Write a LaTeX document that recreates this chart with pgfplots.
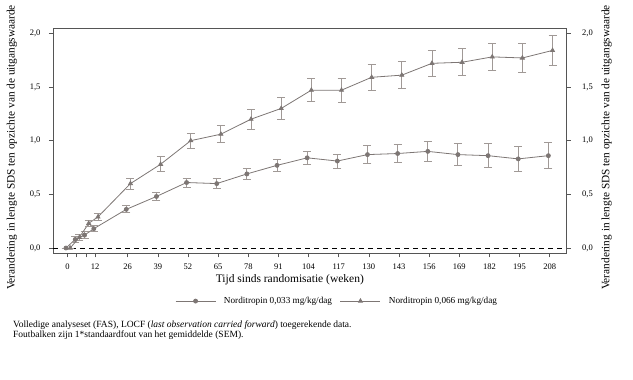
\documentclass[border=0pt]{standalone}
\usepackage{pgfplots}
\pgfplotsset{compat=1.18}
\usepackage{fontspec}
\setmainfont{Liberation Serif}
\definecolor{ln}{RGB}{125,118,116}
\definecolor{eb}{RGB}{160,153,150}
\definecolor{fr}{RGB}{85,85,85}
\begin{document}
\begin{tikzpicture}
\path (0pt,0pt) rectangle (633pt,380pt);
\begin{axis}[
  at={(53pt,126.5pt)}, anchor=south west,
  width=513.7pt, height=225.5pt, scale only axis,
  xmin=-6.2, xmax=215.3, ymin=-0.051, ymax=2.049,
  xtick={0,4,8,12,26,39,52,65,78,91,104,117,130,143,156,169,182,195,208},
  xticklabels={0,,,12,26,39,52,65,78,91,104,117,130,143,156,169,182,195,208},
  ytick={0,0.5,1,1.5,2},
  yticklabel style={xshift=-5pt,/pgf/number format/.cd,use comma,fixed,fixed zerofill,precision=1},
  /pgf/number format/assume math mode=true,
  tick align=outside, major tick length=4pt,
  xtick pos=bottom, ytick pos=left,
  tick style={fr, line width=0.6pt},
  axis line style={fr, line width=0.9pt},
  ticklabel style={font=\fontsize{8.5}{9}\selectfont},
  xticklabel style={yshift=-3pt},
  xlabel={Tijd sinds randomisatie (weken)},
  xlabel style={font=\fontsize{11.5}{12}\selectfont, at={(axis description cs:0.461,-0.1175)}, anchor=center},
  ylabel={Verandering in lengte SDS ten opzichte van de uitgangswaarde},
  ylabel style={font=\fontsize{11.3}{12}\selectfont, at={(axis description cs:-0.0798,0.47)}, anchor=center},
  legend columns=2,
  legend style={at={(0.553,-0.211)}, anchor=center, draw=none, fill=none,
    font=\fontsize{9.2}{10}\selectfont, column sep=6pt},
  legend cell align=left,
  legend image code/.code={\draw[mark repeat=2,mark phase=2,#1] plot coordinates {(0pt,0pt) (20pt,0pt) (40pt,0pt)};},
]
\addplot[forget plot, black, line width=0.7pt, dash pattern=on 5pt off 4pt] coordinates {(-6.2,0) (215.3,0)};
\addplot[ln, line width=0.8pt, mark=*, mark size=2pt, mark options={fill=ln, draw=ln},
  error bars/.cd, y dir=both, y explicit,
  error bar style={eb, line width=0.9pt},
  error mark options={eb, rotate=90, mark size=4pt, line width=0.9pt}]
  coordinates {
  (-0.6,0) +- (0,0)
  (3.4,0.08) +- (0,0.025)
  (7.4,0.12) +- (0,0.03)
  (11.4,0.18) +- (0,0.03)
  (25.4,0.36) +- (0,0.033)
  (38.4,0.48) +- (0,0.037)
  (51.4,0.61) +- (0,0.042)
  (64.4,0.60) +- (0,0.048)
  (77.4,0.69) +- (0,0.053)
  (90.4,0.77) +- (0,0.059)
  (103.4,0.84) +- (0,0.062)
  (116.4,0.81) +- (0,0.065)
  (129.4,0.87) +- (0,0.084)
  (142.4,0.88) +- (0,0.082)
  (155.4,0.90) +- (0,0.093)
  (168.4,0.87) +- (0,0.104)
  (181.4,0.86) +- (0,0.11)
  (194.4,0.83) +- (0,0.116)
  (207.4,0.86) +- (0,0.12)
  };
\addlegendentry{Norditropin 0,033 mg/kg/dag}
\addplot[ln, line width=0.8pt, mark=triangle*, mark size=2.3pt, mark options={fill=ln, draw=ln},
  error bars/.cd, y dir=both, y explicit,
  error bar style={eb, line width=0.9pt},
  error mark options={eb, rotate=90, mark size=4pt, line width=0.9pt}]
  coordinates {
  (1.2,0) +- (0,0)
  (5.2,0.10) +- (0,0.025)
  (9.2,0.23) +- (0,0.03)
  (13.2,0.29) +- (0,0.035)
  (27.2,0.60) +- (0,0.051)
  (40.2,0.78) +- (0,0.071)
  (53.2,1.00) +- (0,0.07)
  (66.2,1.06) +- (0,0.081)
  (79.2,1.20) +- (0,0.093)
  (92.2,1.30) +- (0,0.10)
  (105.2,1.47) +- (0,0.106)
  (118.2,1.47) +- (0,0.113)
  (131.2,1.59) +- (0,0.12)
  (144.2,1.61) +- (0,0.123)
  (157.2,1.72) +- (0,0.123)
  (170.2,1.73) +- (0,0.126)
  (183.2,1.78) +- (0,0.124)
  (196.2,1.77) +- (0,0.132)
  (209.2,1.84) +- (0,0.138)
  };
\addlegendentry{Norditropin 0,066 mg/kg/dag}
\end{axis}
\begin{axis}[
  at={(53pt,126.5pt)}, anchor=south west,
  width=513.7pt, height=225.5pt, scale only axis,
  xmin=-6.2, xmax=215.3, ymin=-0.051, ymax=2.049,
  axis x line=none, axis y line*=right,
  ytick={0,0.5,1,1.5,2},
  yticklabel style={xshift=8pt,/pgf/number format/.cd,use comma,fixed,fixed zerofill,precision=1},
  /pgf/number format/assume math mode=true,
  tick align=outside, major tick length=4pt,
  tick style={fr, line width=0.6pt},
  axis line style={fr, line width=0.9pt},
  ticklabel style={font=\fontsize{8.5}{9}\selectfont},
  ylabel={Verandering in lengte SDS ten opzichte van de uitgangswaarde},
  ylabel style={font=\fontsize{11.3}{12}\selectfont, at={(axis description cs:1.078,0.47)}, anchor=center},
]
\end{axis}
\node[anchor=west, font=\fontsize{9.5}{10}\selectfont, inner sep=0pt] at (13pt,55pt) {Volledige analyseset (FAS), LOCF (\textit{last observation carried forward}) toegerekende data.};
\node[anchor=west, font=\fontsize{9.5}{10}\selectfont, inner sep=0pt] at (13pt,44.5pt) {Foutbalken zijn 1*standaardfout van het gemiddelde (SEM).};
\end{tikzpicture}
\end{document}
